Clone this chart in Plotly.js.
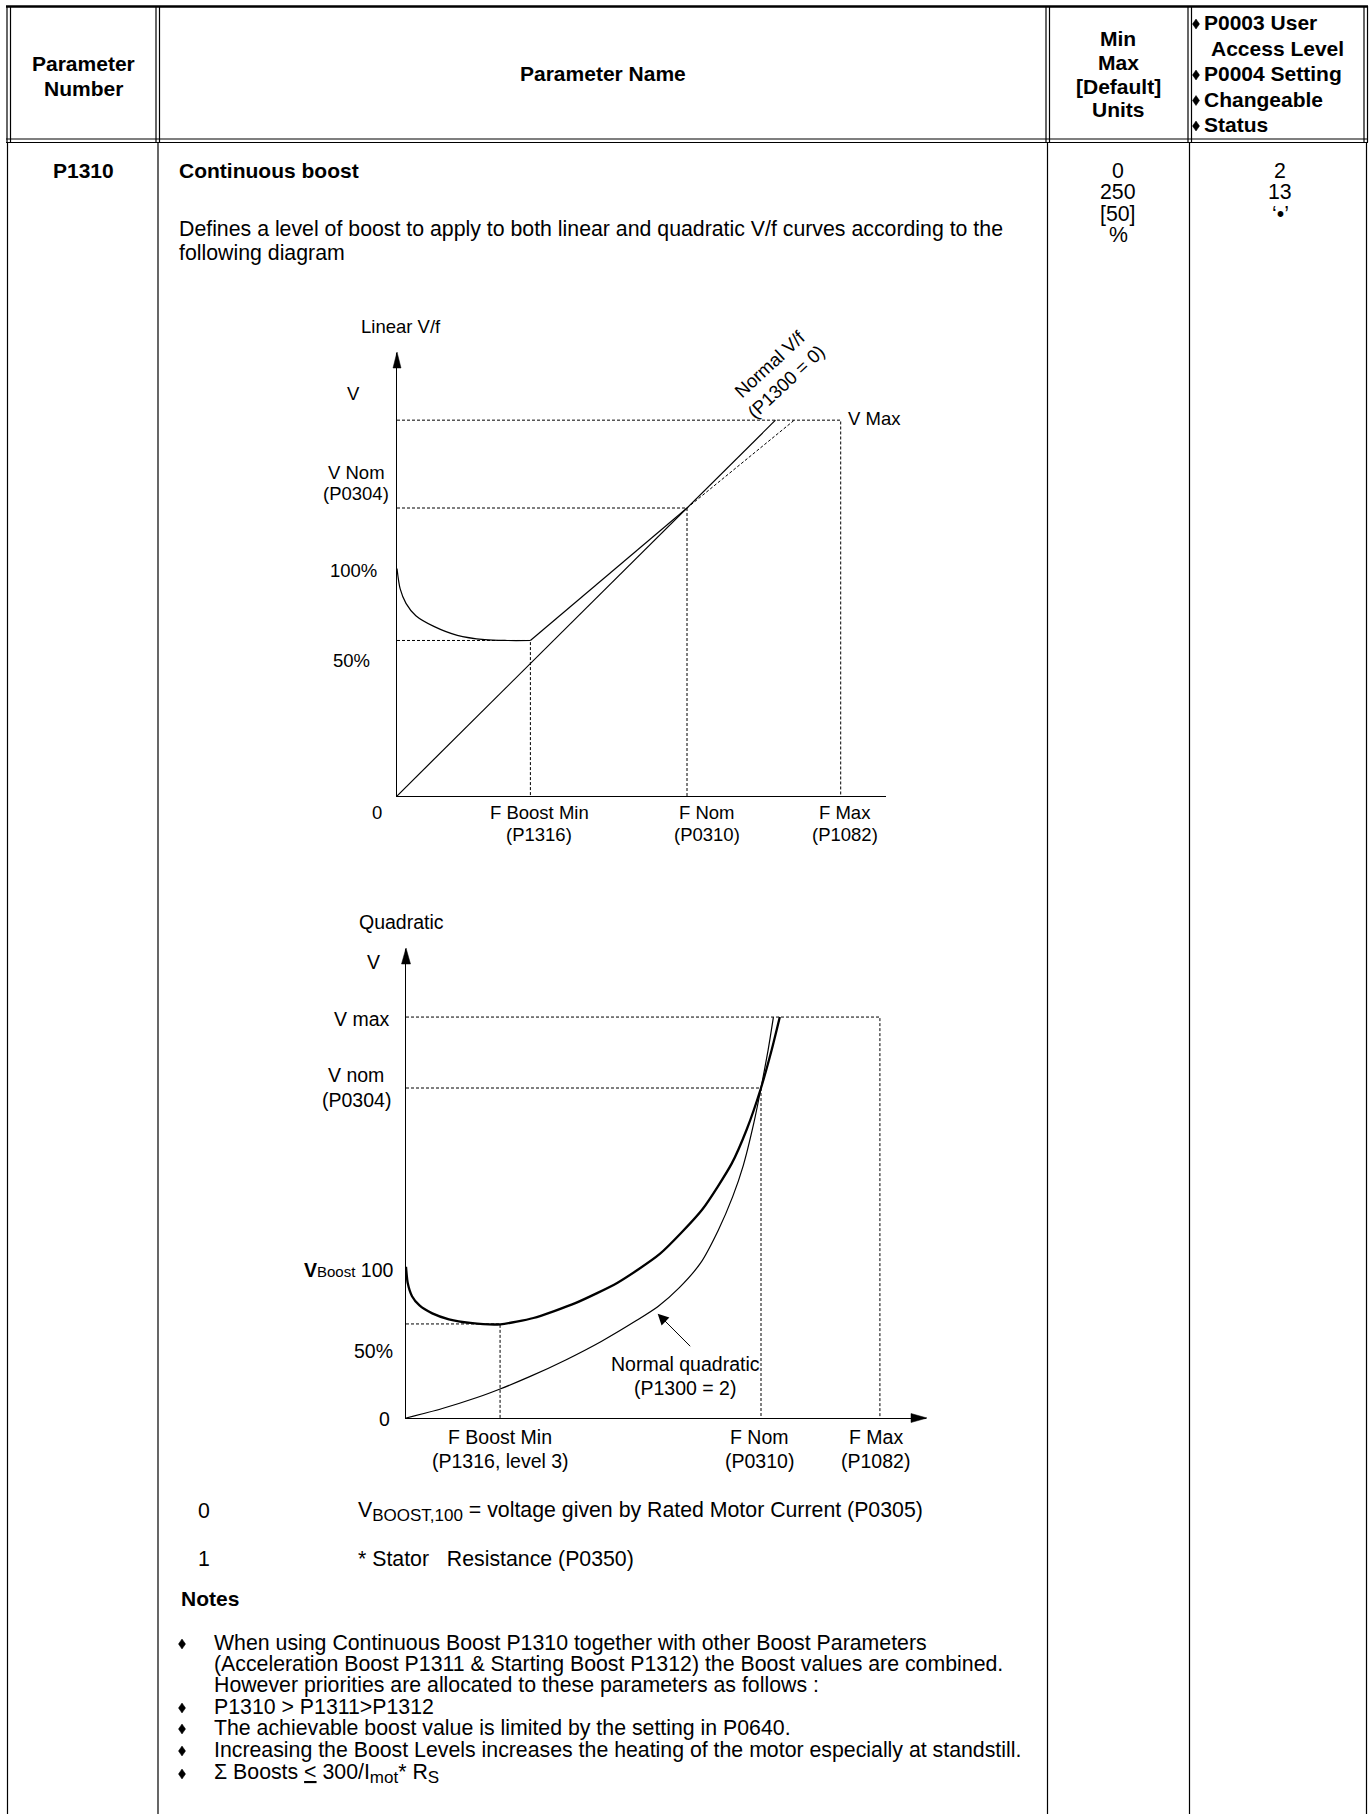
<!DOCTYPE html>
<html><head><meta charset="utf-8">
<script src="https://cdn.plot.ly/plotly-3.0.1.min.js"></script>
<style>html,body{margin:0;padding:0;background:#fff}</style>
</head><body>
<div id="chart" style="width:1369px;height:1814px"></div>
<script>
// ================= DATA =================
// Linear V/f diagram (values in % of nominal frequency / nominal voltage)
const linFreqMarks  = [46, 100, 153];                 // F Boost Min, F Nom, F Max
const linFreqLabels = ['F Boost Min', 'F Nom', 'F Max'];
const linFreqParams = ['(P1316)', '(P0310)', '(P1082)'];
const linVoltMarks  = [54, 100, 130.5];               // boost level, V Nom, V Max
const linNormalF    = [0, 100, 130.5];                // Normal V/f (P1300 = 0)
const linNormalV    = [0, 100, 130.5];
const linBoostCurveF = [0, 1.1, 3.1, 6.5, 12.7, 20.8, 30.3, 38, 46];
const linBoostCurveV = [79, 71.9, 66.9, 62.6, 58.9, 55.8, 54.3, 54, 54];
const linBoostLineF = [46, 100];
const linBoostLineV = [54, 100];
const linBoostExtF  = [100, 137];
const linBoostExtV  = [100, 130.5];

// Quadratic diagram
const quadFreqMarks  = [26.5, 100, 133.5];            // F Boost Min, F Nom, F Max
const quadFreqLabels = ['F Boost Min', 'F Nom', 'F Max'];
const quadFreqParams = ['(P1316, level 3)', '(P0310)', '(P1082)'];
const quadVoltMarks  = [28.5, 100, 121.5];            // boost min level, V nom, V max
const quadBoostF = [0, 0.5, 1.7, 3.8, 7.4, 12.1, 18.1, 26.6, 35.9, 47.7, 59.6, 71.5, 83.4, 91.7, 96, 100, 103, 105.3];
const quadBoostV = [45.8, 40.8, 36.9, 34.1, 31.7, 29.9, 28.8, 28.4, 30.3, 34.8, 41.0, 49.7, 63.1, 77, 87.5, 100, 111.5, 121.5];
const quadNormalF = [0, 10, 20, 26.5, 35, 45, 55, 65, 71, 77, 83, 88, 92, 95, 98, 100, 102, 103.5];
const quadNormalV = [0, 2.8, 6.2, 8.8, 12.6, 17.6, 23.2, 29.6, 33.8, 39.5, 47, 57, 67, 76.5, 89.5, 100, 111.5, 121.5];
const quadArrowTip = [70.9, 31.6];

// ================= LAYOUT HELPERS =================
const FONT = 'Liberation Sans, Arial, sans-serif';
const W = 1369, H = 1814;
const PX = x => x / W, PY = y => 1 - y / H;
const LIN  = {x0: 397, y0: 796, pf: 2.9, pv: 2.88, xEnd: 886, yTop: 353};
const QUAD = {x0: 406, y0: 1418, pf: 3.55, pv: 3.3, xEnd: 926, yTop: 949};
const BODY = 21.3;

function axis(domain, range, anchor) {
  return {domain, range, anchor, showline: true, linecolor: '#000', linewidth: 1.3,
          showgrid: false, zeroline: false, showticklabels: false, ticks: '', fixedrange: true};
}
function T(x, y, text, o) {
  o = o || {};
  return {xref: 'paper', yref: 'paper', x: PX(x), y: PY(y), text, showarrow: false,
          xanchor: o.xa || 'center', yanchor: 'middle', textangle: o.angle || 0,
          font: {family: FONT, size: o.size || BODY, color: '#000'}};
}
function hl(y, x0, x1, w) {
  return {type: 'line', xref: 'paper', yref: 'paper', x0: PX(x0), x1: PX(x1), y0: PY(y), y1: PY(y), line: {color: '#000', width: w || 1.2}};
}
function vl(x, y0, y1, w) {
  return {type: 'line', xref: 'paper', yref: 'paper', x0: PX(x), x1: PX(x), y0: PY(y0), y1: PY(y1), line: {color: '#000', width: w || 1.2}};
}
function poly(pts) {
  return {type: 'path', xref: 'paper', yref: 'paper', fillcolor: '#000', line: {color: '#000', width: 0.5},
          path: 'M' + pts.map(p => PX(p[0]) + ',' + PY(p[1])).join('L') + 'Z'};
}
function diamond(cx, cy, w, h) {
  return poly([[cx, cy - h / 2], [cx + w / 2, cy], [cx, cy + h / 2], [cx - w / 2, cy]]);
}
const DASH = {color: '#000', width: 1, dash: '3px,2px'};
const SOLID = {color: '#000', width: 1.2};

// ================= TRACES =================
const traces = [];
function add(x, y, line, ax) {
  traces.push({x, y, mode: 'lines', line, xaxis: ax[0], yaxis: ax[1], hoverinfo: 'skip', showlegend: false});
}
// linear diagram
const LA = ['x', 'y'];
add([0, linFreqMarks[2], linFreqMarks[2]], [linVoltMarks[2], linVoltMarks[2], 0], DASH, LA);
add([0, linFreqMarks[1], linFreqMarks[1]], [linVoltMarks[1], linVoltMarks[1], 0], DASH, LA);
add([0, linFreqMarks[0], linFreqMarks[0]], [linVoltMarks[0], linVoltMarks[0], 0], DASH, LA);
add(linBoostExtF, linBoostExtV, DASH, LA);
add(linNormalF, linNormalV, SOLID, LA);
add(linBoostCurveF, linBoostCurveV, Object.assign({shape: 'spline', smoothing: 0.8}, SOLID), LA);
add(linBoostLineF, linBoostLineV, SOLID, LA);
// quadratic diagram
const QA = ['x2', 'y2'];
add([0, quadFreqMarks[2], quadFreqMarks[2]], [quadVoltMarks[2], quadVoltMarks[2], 0], DASH, QA);
add([0, quadFreqMarks[1], quadFreqMarks[1]], [quadVoltMarks[1], quadVoltMarks[1], 0], DASH, QA);
add([0, quadFreqMarks[0], quadFreqMarks[0]], [quadVoltMarks[0], quadVoltMarks[0], 0], DASH, QA);
add(quadNormalF, quadNormalV, Object.assign({shape: 'spline', smoothing: 0.7}, SOLID), QA);
add(quadBoostF, quadBoostV, {color: '#000', width: 2.3, shape: 'spline', smoothing: 0.6}, QA);

// ================= TABLE =================
const shapes = [];
shapes.push(hl(6.5, 6, 1368, 2.4));
shapes.push(hl(139, 6, 1368), hl(142.5, 6, 1368));
[[7, 10.5], [156, 159.5], [1046, 1049.5], [1188, 1191.5], [1364, 1367.5]].forEach(p => {
  shapes.push(vl(p[0], 6, 142.5), vl(p[1], 6, 142.5));
});
[7.5, 158, 1047.5, 1189.5, 1366.5].forEach(x => shapes.push(vl(x, 142.5, 1814)));
// axis arrow heads
shapes.push(poly([[LIN.x0, LIN.yTop - 1], [LIN.x0 - 4, LIN.yTop + 15], [LIN.x0 + 4, LIN.yTop + 15]]));
shapes.push(poly([[QUAD.x0, QUAD.yTop - 1], [QUAD.x0 - 4.5, QUAD.yTop + 15], [QUAD.x0 + 4.5, QUAD.yTop + 15]]));
shapes.push(poly([[QUAD.xEnd + 1, QUAD.y0], [QUAD.xEnd - 15, QUAD.y0 - 4.5], [QUAD.xEnd - 15, QUAD.y0 + 4.5]]));

// ================= TEXT =================
const ann = [];
// header
ann.push(T(83, 64, '<b>Parameter</b>', {size: 21}), T(83, 88, '<b>Number</b>', {size: 21}));
ann.push(T(603, 74, '<b>Parameter Name</b>', {size: 21}));
['Min', 'Max', '[Default]', 'Units'].forEach((t, i) => ann.push(T(1118, 39 + i * 23.5, '<b>' + t + '</b>', {size: 21})));
[['P0003 User', 1, 1202], ['Access Level', 0, 1209], ['P0004 Setting', 1, 1202], ['Changeable', 1, 1202], ['Status', 1, 1202]]
  .forEach((r, i) => {
    const y = 23 + i * 25.5;
    if (r[1]) shapes.push(diamond(1196, y + 1, 7, 10));
    ann.push(T(r[2], y, '<b>' + r[0] + '</b>', {xa: 'left', size: 21}));
  });
// body top
ann.push(T(83, 171, '<b>P1310</b>', {size: 21}));
ann.push(T(177, 171, '<b>Continuous boost</b>', {xa: 'left', size: 21}));
ann.push(T(177, 229, 'Defines a level of boost to apply to both linear and quadratic V/f curves according to the', {xa: 'left'}));
ann.push(T(177, 252.5, 'following diagram', {xa: 'left'}));
['0', '250', '[50]', '%'].forEach((t, i) => ann.push(T(1118, 171 + i * 21.3, t)));
['2', '13', '\u2018\u2022\u2019'].forEach((t, i) => ann.push(T(1280, 171 + i * 21.3, t)));

// linear diagram labels
const LS = 18.5;
ann.push(T(359, 327, 'Linear V/f', {xa: 'left', size: LS}));
ann.push(T(353, 393, 'V', {size: LS}));
ann.push(T(356, 472, 'V Nom', {size: LS}), T(356, 494, '(P0304)', {size: LS}));
ann.push(T(353, 570, '100%', {size: LS}), T(352, 660, '50%', {size: LS}));
ann.push(T(377, 813, '0', {size: LS}));
const linShift = [9, 20, 4];
linFreqMarks.forEach((f, i) => {
  const x = LIN.x0 + f * LIN.pf + linShift[i];
  ann.push(T(x, 813, linFreqLabels[i], {size: LS}), T(x, 834, linFreqParams[i], {size: LS}));
});
ann.push(T(846, 419, 'V Max', {xa: 'left', size: LS}));
ann.push(T(777, 373, 'Normal V/f<br>(P1300 = 0)', {size: LS, angle: -43}));

// quadratic diagram labels
const QS = 19.5;
ann.push(T(402, 922, 'Quadratic', {size: QS}));
ann.push(T(373, 962, 'V', {size: QS}));
ann.push(T(362, 1019, 'V max', {size: QS}));
ann.push(T(356, 1075, 'V nom', {size: QS}), T(356, 1100, '(P0304)', {size: QS}));
ann.push(T(395, 1270, '<b>V</b><span style="font-size:15px">Boost</span> 100', {xa: 'right', size: QS}));
ann.push(T(373, 1351, '50%', {size: QS}));
ann.push(T(384, 1419, '0', {size: QS}));
const quadShift = [0, -2, -4];
quadFreqMarks.forEach((f, i) => {
  const x = QUAD.x0 + f * QUAD.pf + quadShift[i];
  ann.push(T(x, 1437, quadFreqLabels[i], {size: QS}), T(x, 1461, quadFreqParams[i], {size: QS}));
});
ann.push(T(685, 1364, 'Normal quadratic', {size: QS}), T(685, 1388, '(P1300 = 2)', {size: QS}));
ann.push({xref: 'x2', yref: 'y2', x: quadArrowTip[0], y: quadArrowTip[1], ax: 34, ay: 34, text: '',
          showarrow: true, arrowhead: 2, arrowsize: 2.2, arrowwidth: 1, arrowcolor: '#000'});

// bottom text
const SUB = s => '<sub><span style="font-size:17px">' + s + '</span></sub>';
ann.push(T(204, 1511, '0'), T(356, 1511, 'V' + SUB('BOOST,100') + ' = voltage given by Rated Motor Current (P0305)', {xa: 'left'}));
ann.push(T(204, 1559, '1'), T(356, 1559, '* Stator\u00a0\u00a0\u00a0Resistance (P0350)', {xa: 'left'}));
ann.push(T(179, 1598, '<b>Notes</b>', {xa: 'left', size: 21}));
const notes = [
  ['When using Continuous Boost P1310 together with other Boost Parameters', 1, 1643],
  ['(Acceleration Boost P1311 & Starting Boost P1312) the Boost values are combined.', 0, 1664],
  ['However priorities are allocated to these parameters as follows :', 0, 1685],
  ['P1310 > P1311>P1312', 1, 1707],
  ['The achievable boost value is limited by the setting in P0640.', 1, 1728],
  ['Increasing the Boost Levels increases the heating of the motor especially at standstill.', 1, 1750],
  ['\u03a3 Boosts <u>&lt;</u> 300/I' + SUB('mot') + '* R' + SUB('S'), 1, 1773]
];
notes.forEach(n => {
  if (n[1]) shapes.push(diamond(182, n[2] + 1, 7, 10));
  ann.push(T(212, n[2], n[0], {xa: 'left'}));
});

const layout = {
  width: W, height: H, margin: {l: 0, r: 0, t: 0, b: 0, pad: 0},
  paper_bgcolor: '#fff', plot_bgcolor: 'rgba(0,0,0,0)', showlegend: false,
  xaxis:  axis([PX(LIN.x0), PX(LIN.xEnd)], [0, (LIN.xEnd - LIN.x0) / LIN.pf], 'y'),
  yaxis:  axis([PY(LIN.y0), PY(LIN.yTop)], [0, (LIN.y0 - LIN.yTop) / LIN.pv], 'x'),
  xaxis2: axis([PX(QUAD.x0), PX(QUAD.xEnd)], [0, (QUAD.xEnd - QUAD.x0) / QUAD.pf], 'y2'),
  yaxis2: axis([PY(QUAD.y0), PY(QUAD.yTop)], [0, (QUAD.y0 - QUAD.yTop) / QUAD.pv], 'x2'),
  shapes, annotations: ann, font: {family: FONT, color: '#000'}
};
Plotly.newPlot('chart', traces, layout, {staticPlot: true, displayModeBar: false});
</script>
</body></html>
